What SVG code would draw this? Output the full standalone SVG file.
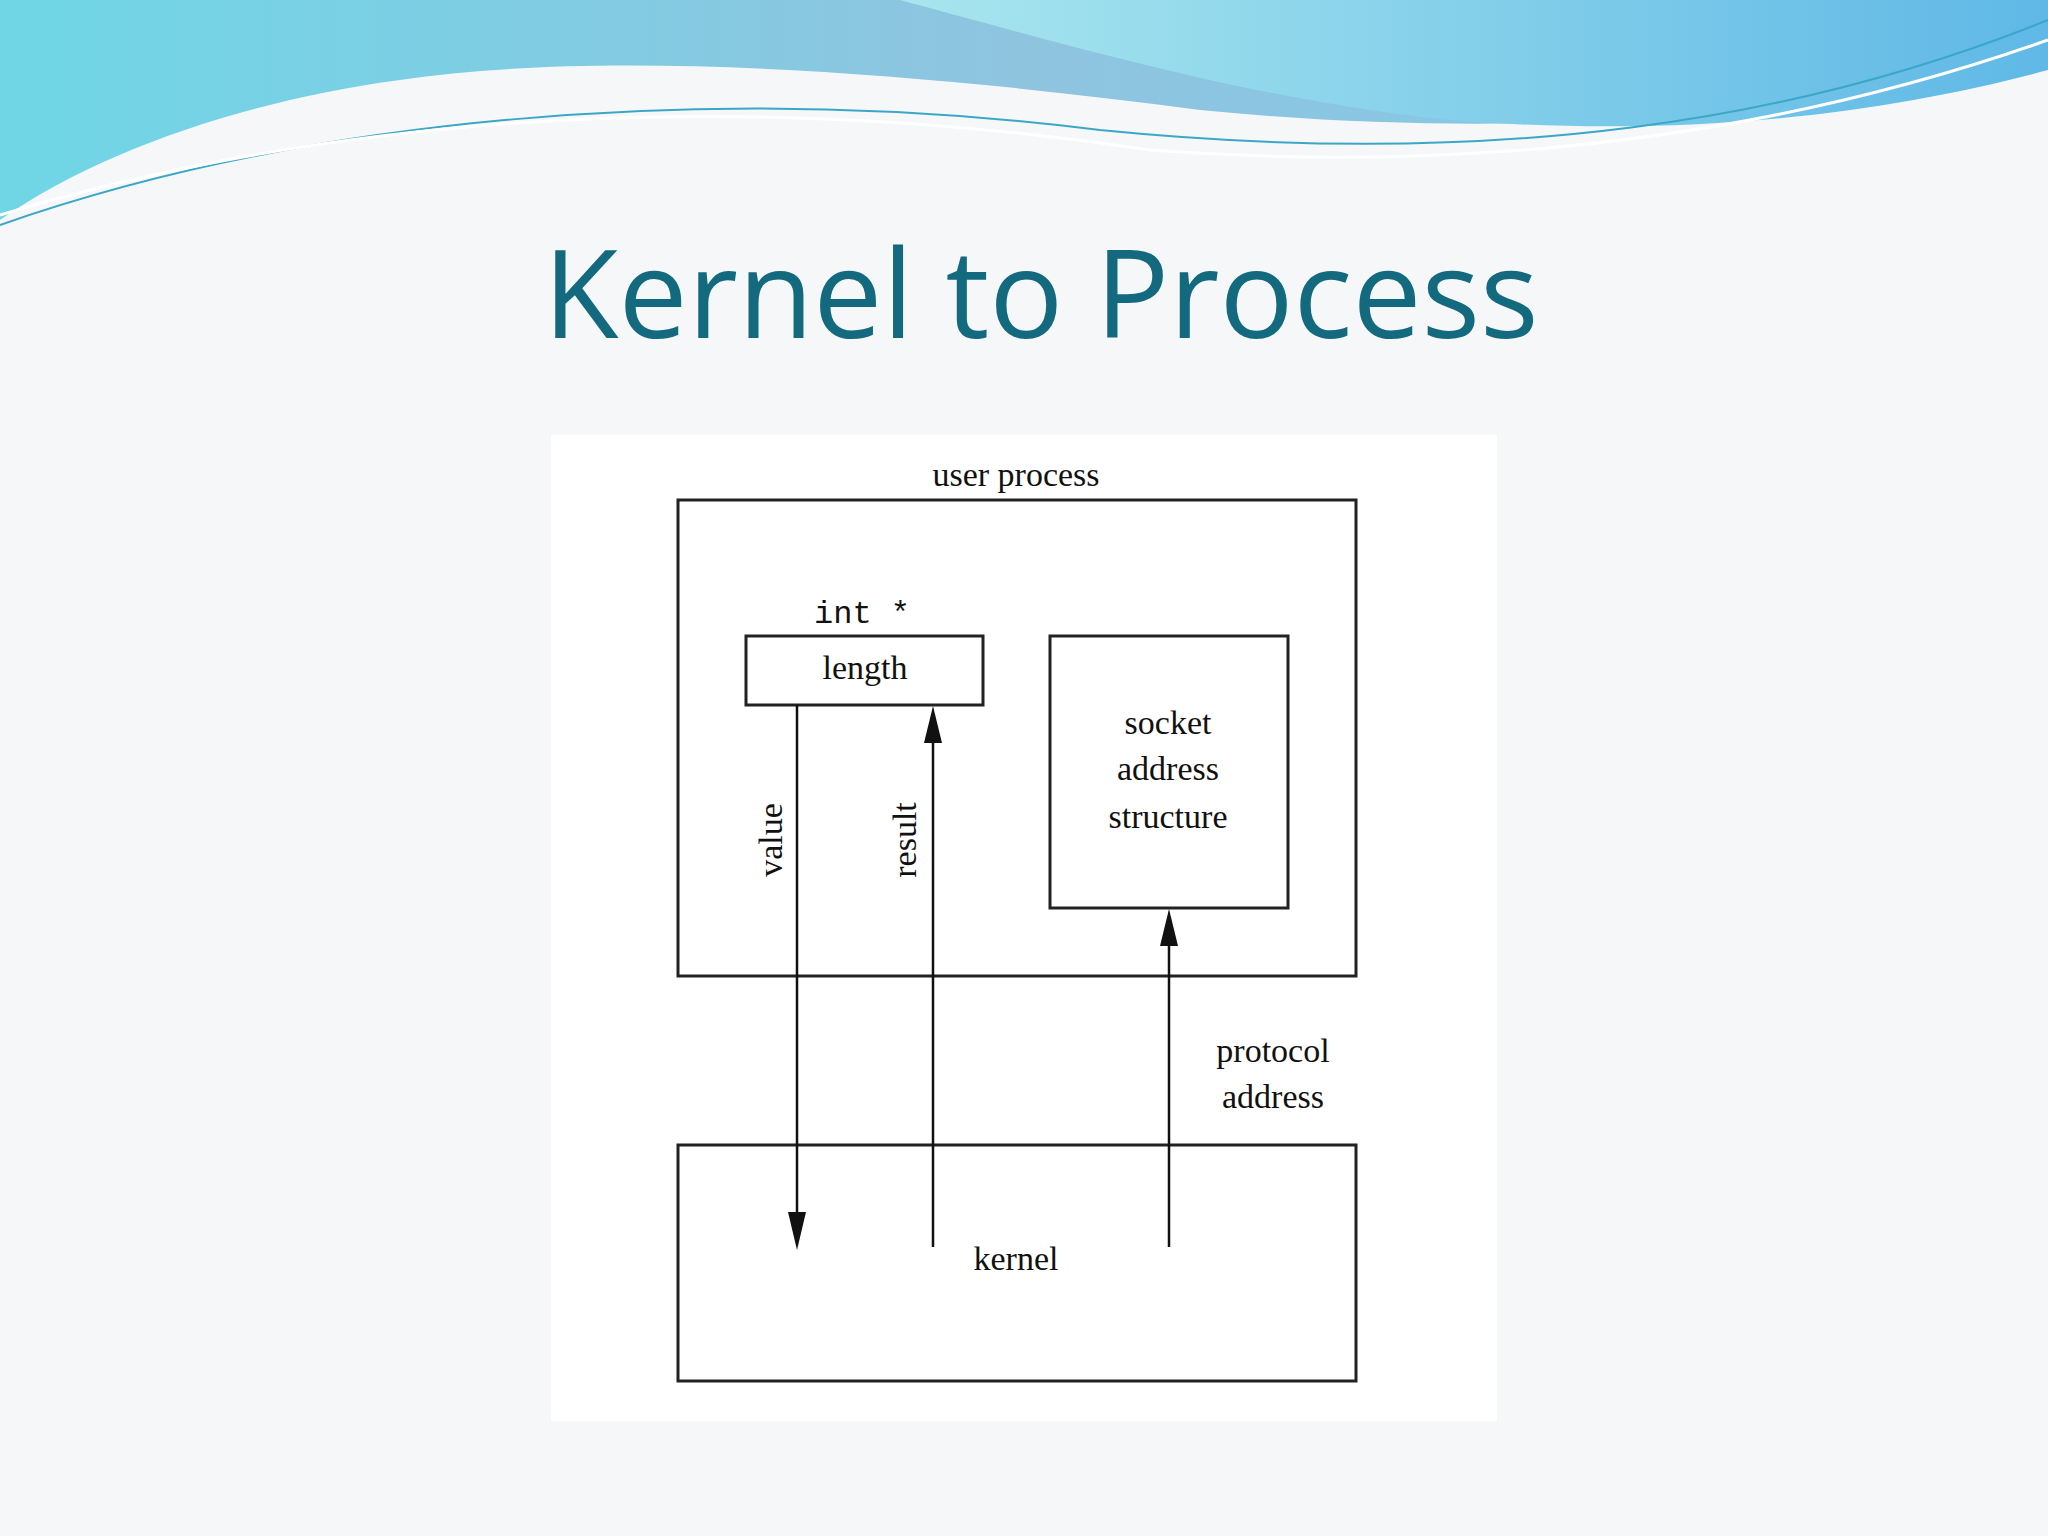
<svg xmlns="http://www.w3.org/2000/svg" width="2048" height="1536" viewBox="0 0 2048 1536">
<defs>
<linearGradient id="g1" x1="0" y1="0" x2="1" y2="0"><stop offset="0" stop-color="#6fd6e6"/><stop offset="0.5" stop-color="#8fc4df"/><stop offset="1" stop-color="#7fcbe8"/></linearGradient>
<linearGradient id="g2" x1="0" y1="0" x2="1" y2="0"><stop offset="0" stop-color="#a8e6ee"/><stop offset="1" stop-color="#5fb8e6"/></linearGradient>
<style>
.b{fill:#fff;stroke:#222;stroke-width:3}
.t{font-family:"Liberation Serif",serif;font-size:34px;fill:#111;text-anchor:middle}
.m{font-family:"Liberation Mono",monospace;font-size:32px;fill:#111;text-anchor:middle}
.c{stroke:#111;stroke-width:2.5;fill:none}
.h{fill:#111}
</style>
</defs>
<rect width="2048" height="1536" fill="#f6f7f9"/>
<g id="waves">
<path d="M0,0 H2048 V60 C1800,120 1500,140 1200,110 C900,70 600,50 400,80 C250,100 100,150 0,220 Z" fill="url(#g1)"/>
<path d="M900,0 H2048 V70 C1900,110 1700,140 1450,120 C1250,100 1050,40 900,0 Z" fill="url(#g2)"/>
<path d="M0,225 C300,120 700,80 1100,130 C1500,170 1800,120 2048,20" fill="none" stroke="#3aa7c7" stroke-width="2"/>
<path d="M0,215 C350,110 750,90 1150,150 C1550,180 1850,110 2048,40" fill="none" stroke="#ffffff" stroke-width="3"/>
</g>
<text x="1041" y="338" font-family="Open Sans, sans-serif" font-size="123" fill="#136a7e" text-anchor="middle">Kernel to Process</text>
<rect x="551" y="435" width="946" height="986" fill="#ffffff"/>
<g id="user_process"><rect class="b" x="678" y="500" width="678" height="476"/><text class="t" x="1016" y="486">user process</text></g>
<g id="length"><text class="m" x="862" y="623">int *</text><rect class="b" x="746" y="636" width="237" height="69"/><text class="t" x="865" y="679">length</text></g>
<g id="socket"><rect class="b" x="1050" y="636" width="238" height="272"/><text class="t" x="1168" y="734">socket</text><text class="t" x="1168" y="780">address</text><text class="t" x="1168" y="828">structure</text></g>
<g id="kernel"><rect class="b" x="678" y="1145" width="678" height="236"/><text class="t" x="1016" y="1270">kernel</text></g>
<g id="connectors">
<line class="c" x1="797" y1="705" x2="797" y2="1220"/>
<polygon class="h" points="788,1212 806,1212 797,1250"/>
<line class="c" x1="933" y1="1247" x2="933" y2="735"/>
<polygon class="h" points="924,743 942,743 933,706"/>
<line class="c" x1="1169" y1="1247" x2="1169" y2="938"/>
<polygon class="h" points="1160,946 1178,946 1169,909"/>
<text class="t" transform="translate(782,840) rotate(-90)">value</text>
<text class="t" transform="translate(916,840) rotate(-90)">result</text>
<text class="t" x="1273" y="1062">protocol</text>
<text class="t" x="1273" y="1108">address</text>
</g>
</svg>
